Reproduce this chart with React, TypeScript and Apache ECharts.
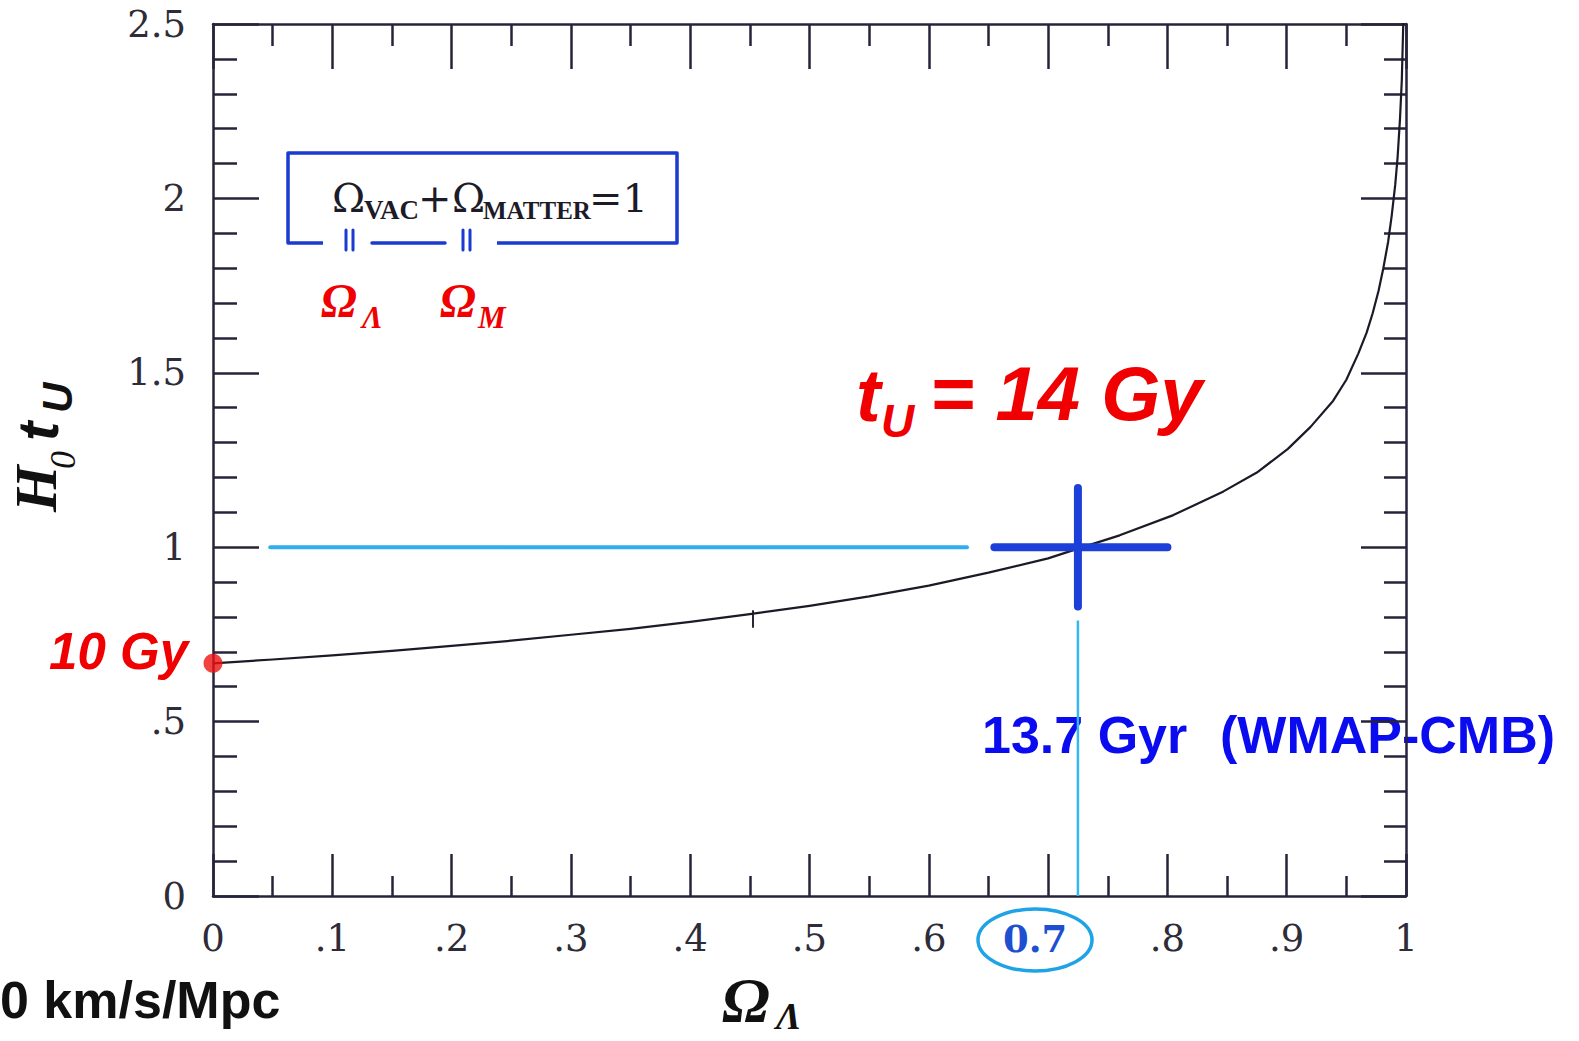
import React, { useEffect, useRef } from "react";
import * as echarts from "echarts";

// Dimensionless age H0·tU of a flat universe versus the vacuum-energy fraction ΩΛ
const omegaLambda = [0, 0.05, 0.1, 0.15, 0.2, 0.25, 0.3, 0.35, 0.4, 0.45, 0.5, 0.55, 0.6, 0.65, 0.7, 0.727, 0.76, 0.805, 0.847, 0.875, 0.901, 0.92, 0.939, 0.95, 0.96, 0.967, 0.972, 0.977, 0.981, 0.985, 0.988, 0.991, 0.993, 0.995, 0.9965, 0.998];
const h0tU = [0.667, 0.678, 0.69, 0.703, 0.717, 0.732, 0.749, 0.766, 0.786, 0.808, 0.832, 0.859, 0.89, 0.927, 0.968, 0.998, 1.034, 1.092, 1.16, 1.214, 1.282, 1.345, 1.42, 1.48, 1.555, 1.615, 1.67, 1.735, 1.8, 1.875, 1.95, 2.04, 2.12, 2.23, 2.34, 2.54];

const xTickLabels = ["0", ".1", ".2", ".3", ".4", ".5", ".6", "0.7", ".8", ".9", "1"];
const yTickLabels = ["0", ".5", "1", "1.5", "2", "2.5"];
const highlightedTick = 7;

// Empty-universe age (10 Gy point) and the WMAP measurement cross
const emptyUniversePoint = [[0, 0.667]];
const unitAgeLevel = [[0.048, 1], [0.632, 1]];
const wmapCrossH = [[0.655, 1], [0.8, 1]];
const wmapCrossV = [[0.725, 0.83], [0.725, 1.17]];
const wmapDrop = [[0.725, 0.79], [0.725, 0]];

const frame = "#27233a";
const serif = "'DejaVu Serif', serif";
const times = "'Liberation Serif', serif";
const sans = "'Liberation Sans', Arial, sans-serif";

function txt(x: number, y: number, text: string, font: string, fill: string, align = "left") {
  return { type: "text", x, y, silent: true, style: { text, font, fill, textAlign: align, textVerticalAlign: "middle" } };
}

function seg(x1: number, y1: number, x2: number, y2: number, stroke: string, w: number) {
  return { type: "line", silent: true, shape: { x1, y1, x2, y2 }, style: { stroke, lineWidth: w, lineCap: "round" } };
}

function xAxis(position: "bottom" | "top", labels: boolean, major: number, minor: number) {
  return {
    type: "value",
    position,
    min: 0,
    max: 1,
    interval: 0.1,
    axisLine: { show: true, onZero: false, lineStyle: { color: frame, width: 2.5 } },
    axisTick: { show: true, inside: true, length: major, lineStyle: { color: frame, width: 2.5 } },
    minorTick: { show: true, splitNumber: 2, length: minor, lineStyle: { color: frame, width: 2.5 } },
    splitLine: { show: false },
    axisLabel: labels
      ? {
          show: true,
          margin: 24,
          color: "#2e2c38",
          fontFamily: serif,
          fontSize: 37,
          formatter: (v: number) => {
            const i = Math.round(v * 10);
            return i === highlightedTick ? `{hl|${xTickLabels[i]}}` : xTickLabels[i];
          },
          rich: {
            hl: { color: "#1d4fd0", fontFamily: serif, fontSize: 37, fontWeight: "bold", padding: [0, 26, 0, 0] },
          },
        }
      : { show: false },
  };
}

function yAxis(position: "left" | "right", labels: boolean, major: number, minor: number) {
  return {
    type: "value",
    position,
    min: 0,
    max: 2.5,
    interval: 0.5,
    axisLine: { show: true, onZero: false, lineStyle: { color: frame, width: 2.5 } },
    axisTick: { show: true, inside: true, length: major, lineStyle: { color: frame, width: 2.5 } },
    minorTick: { show: true, splitNumber: 5, length: minor, lineStyle: { color: frame, width: 2.5 } },
    splitLine: { show: false },
    axisLabel: labels
      ? {
          show: true,
          margin: 27,
          color: "#2e2c38",
          fontFamily: serif,
          fontSize: 37,
          formatter: (v: number) => yTickLabels[Math.round(v * 2)],
        }
      : { show: false },
  };
}

const formulaBlue = "#1a3ad0";
const red = "#f00000";

const graphics: any[] = [
  // boxed relation between the density parameters
  {
    type: "polyline",
    silent: true,
    shape: { points: [[323, 243], [288, 243], [288, 153], [677, 153], [677, 243], [497, 243]] },
    style: { stroke: formulaBlue, lineWidth: 3.5, fill: null, lineJoin: "round" },
  },
  seg(372, 243, 445, 243, formulaBlue, 3.5),
  seg(346, 230, 346, 250, formulaBlue, 3),
  seg(353, 230, 353, 250, formulaBlue, 3),
  seg(463, 230, 463, 250, formulaBlue, 3),
  seg(470, 230, 470, 250, formulaBlue, 3),
  txt(332, 198, "Ω", `40px ${serif}`, "#1c1b28"),
  txt(364, 210, "VAC", `bold 27px ${times}`, "#1c1b28"),
  txt(418, 198, "+", `40px ${serif}`, "#1c1b28"),
  txt(452, 198, "Ω", `40px ${serif}`, "#1c1b28"),
  txt(483, 210, "MATTER", `bold 25px ${times}`, "#1c1b28"),
  txt(589, 198, "=1", `40px ${serif}`, "#1c1b28"),
  // red symbols under the box
  txt(321, 300, "Ω", `italic bold 48px ${times}`, red),
  txt(362, 317, "Λ", `italic bold 31px ${times}`, red),
  txt(440, 300, "Ω", `italic bold 48px ${times}`, red),
  txt(478, 317, "M", `italic bold 31px ${times}`, red),
  // age of the universe
  txt(856, 395, "t", `italic bold 74px ${sans}`, red),
  txt(881, 421, "U", `italic bold 46px ${sans}`, red),
  txt(930, 393, "= 14 Gy", `italic bold 76px ${sans}`, red),
  txt(188, 651, "10 Gy", `italic bold 51px ${sans}`, red, "right"),
  txt(982, 735, "13.7 Gyr", `bold 52px ${sans}`, "#0b0bf0"),
  txt(1220, 735, "(WMAP-CMB)", `bold 52px ${sans}`, "#0b0bf0"),
  // circled tick value
  {
    type: "ellipse",
    silent: true,
    shape: { cx: 1035, cy: 940, rx: 57, ry: 31 },
    style: { stroke: "#1ea4e6", lineWidth: 3.5, fill: null },
  },
  // small pen mark on the curve
  seg(753, 611, 753, 627, "#2a2838", 2),
  // axis titles
  {
    type: "group",
    x: 57,
    y: 512,
    rotation: Math.PI / 2,
    silent: true,
    children: [
      txt(0, -21, "H", `italic bold 60px ${times}`, "#111"),
      txt(43, 6, "0", `italic 36px ${times}`, "#111"),
      txt(71, -20, "t", `italic bold 58px ${sans}`, "#111"),
      txt(99, 0, "U", `italic bold 42px ${sans}`, "#111"),
    ],
  },
  txt(722, 1000, "Ω", `italic bold 64px ${times}`, "#111"),
  txt(776, 1016, "Λ", `italic bold 38px ${times}`, "#111"),
  txt(0, 1000, "0 km/s/Mpc", `bold 52px ${sans}`, "#111"),
];

const option: any = {
  animation: false,
  backgroundColor: "#ffffff",
  grid: { left: 213, top: 24, width: 1193, height: 872, containLabel: false },
  xAxis: [xAxis("bottom", true, 42, 20), xAxis("top", false, 45, 22)],
  yAxis: [yAxis("left", true, 46, 24), yAxis("right", false, 45, 22)],
  series: [
    {
      name: "H0 tU",
      type: "line",
      data: omegaLambda.map((x, i) => [x, h0tU[i]]),
      showSymbol: false,
      smooth: false,
      clip: true,
      lineStyle: { color: "#1c1a28", width: 2.2, join: "round" },
      z: 3,
    },
    {
      name: "unit age",
      type: "line",
      data: unitAgeLevel,
      showSymbol: false,
      lineStyle: { color: "#2eaeee", width: 4, cap: "round" },
      z: 2,
    },
    {
      name: "WMAP drop",
      type: "line",
      data: wmapDrop,
      showSymbol: false,
      lineStyle: { color: "#38b6f0", width: 2.5 },
      z: 2,
    },
    {
      name: "WMAP horizontal",
      type: "line",
      data: wmapCrossH,
      showSymbol: false,
      lineStyle: { color: "#1d3fd9", width: 8, cap: "round" },
      z: 4,
    },
    {
      name: "WMAP vertical",
      type: "line",
      data: wmapCrossV,
      showSymbol: false,
      lineStyle: { color: "#1d3fd9", width: 8, cap: "round" },
      z: 4,
    },
    {
      name: "10 Gy",
      type: "scatter",
      data: emptyUniversePoint,
      symbolSize: 19,
      itemStyle: { color: "#ee1111" },
      clip: false,
      z: 5,
    },
  ],
  graphic: graphics,
};

export default function App() {
  const ref = useRef<HTMLDivElement>(null);
  useEffect(() => {
    const chart = echarts.init(ref.current!, null, { renderer: "svg" });
    chart.setOption(option);
    return () => chart.dispose();
  }, []);
  return (
    <div
      ref={ref}
      style={{ position: "fixed", left: 0, top: 0, width: 1579, height: 1041, background: "#fff" }}
    />
  );
}
